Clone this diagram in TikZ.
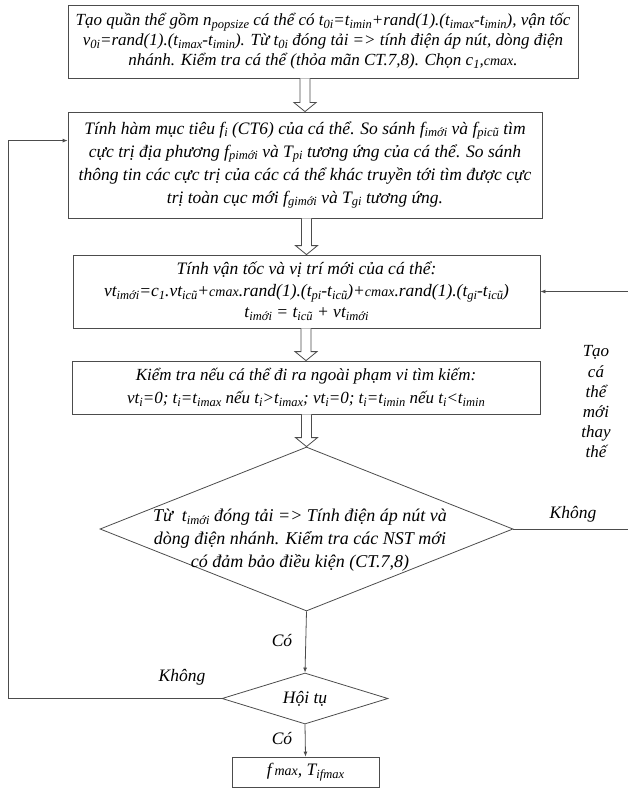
\documentclass[tikz,border=0pt]{standalone}
\usepackage{fontspec}
\setmainfont{Liberation Serif}
\usetikzlibrary{shapes.geometric,arrows.meta,calc}

% lowered small text for indices
\newcommand\sbs[1]{\raisebox{-0.35ex}{\fontsize{12.5}{12.5}\selectfont #1}}
% small text kept on the baseline (the "cmax" coefficient, "max")
\newcommand\smallbase[1]{{\fontsize{14}{14}\selectfont #1}}

\begin{document}
\begin{tikzpicture}[x=1pt,y=-1pt,
  font=\fontsize{17.5}{20}\selectfont\itshape,
  every node/.style={inner sep=0pt},
  procbox/.style={draw=black!70, line width=0.8pt, align=center},
  decision/.style={draw=black!70, line width=0.8pt, shape=diamond},
  flow/.style={draw=black!70, line width=0.8pt, -{Latex[length=5pt,width=4pt]}},
  hollow/.style={draw=black!70, line width=0.8pt, fill=white},
  lbl/.style={align=center}]

\useasboundingbox (0,0) rectangle (627,789);

% process boxes
\node[procbox, minimum width=510pt, minimum height=73pt,
      font=\fontsize{17}{20}\selectfont\itshape] (b1) at (323,41.5)
 {Tạo quần thể gồm n\sbs{popsize} cá thể có t\sbs{0i}=t\sbs{imin}+rand(1).(t\sbs{imax}-t\sbs{imin}), vận tốc\\
  v\sbs{0i}=rand(1).(t\sbs{imax}-t\sbs{imin}). Từ t\sbs{0i} đóng tải => tính điện áp nút, dòng điện\\
  nhánh. Kiểm tra cá thể (thỏa mãn CT.7,8). Chọn c\sbs{1},\smallbase{cmax}.};

\node[procbox, minimum width=474pt, minimum height=106pt,
      font=\fontsize{17.5}{23}\selectfont\itshape] (b2) at (305,165)
 {Tính hàm mục tiêu f\sbs{i} (CT6) của cá thể. So sánh f\sbs{imới} và f\sbs{picũ} tìm\\
  cực trị địa phương f\sbs{pimới} và T\sbs{pi} tương ứng của cá thể. So sánh\\
  thông tin các cực trị của các cá thể khác truyền tới tìm được cực\\
  trị toàn cục mới f\sbs{gimới} và T\sbs{gi} tương ứng.};

\node[procbox, minimum width=467pt, minimum height=73pt,
      font=\fontsize{17.5}{21.5}\selectfont\itshape] (b3) at (306.5,291.5)
 {Tính vận tốc và vị trí mới của cá thể:\\
  vt\sbs{imới}=c\sbs{1}.vt\sbs{icũ}+\smallbase{cmax}.rand(1).(t\sbs{pi}-t\sbs{icũ})+\smallbase{cmax}.rand(1).(t\sbs{gi}-t\sbs{icũ})\\
  t\sbs{imới} = t\sbs{icũ} + vt\sbs{imới}};

\node[procbox, minimum width=468pt, minimum height=53pt,
      font=\fontsize{17}{23}\selectfont\itshape] (b4) at (306,387.5)
 {Kiểm tra nếu cá thể đi ra ngoài phạm vi tìm kiếm:\\
  vt\sbs{i}=0; t\sbs{i}=t\sbs{imax} nếu t\sbs{i}>t\sbs{imax}; vt\sbs{i}=0; t\sbs{i}=t\sbs{imin} nếu t\sbs{i}<t\sbs{imin}};

% decisions
\node[decision, minimum width=413pt, minimum height=164pt] (d1) at (306.5,529) {};
\node[lbl, font=\fontsize{18}{23}\selectfont\itshape] (d1txt) at (300,540)
 {Từ \ t\sbs{imới} đóng tải => Tính điện áp nút và\\
  dòng điện nhánh. Kiểm tra các NST mới\\
  có đảm bảo điều kiện (CT.7,8)};

\node[decision, minimum width=166pt, minimum height=51pt] (d2) at (305,698.5) {};
\node[lbl] (d2txt) at (305,699) {Hội tụ};

% result
\node[procbox, minimum width=147pt, minimum height=30pt] (b5) at (305.5,772)
 {f\,\smallbase{max}, T\sbs{ifmax}};

% hollow block arrows between stages
\newcommand\hollowdown[2]{%
  \path[hollow] let \p1=(#1.south), \p2=(#2.north) in
    (\x2-5pt,\y1) -- (\x2-5pt,\y2+9pt) -- (\x2-11pt,\y2+9pt) -- (\x2,\y2)
    -- (\x2+11pt,\y2+9pt) -- (\x2+5pt,\y2+9pt) -- (\x2+5pt,\y1);}
\hollowdown{b1}{b2}
\hollowdown{b2}{b3}
\hollowdown{b3}{b4}
\hollowdown{b4}{d1}

% straight flow
\draw[flow] (d1.south) -- (d2.north);
\draw[flow] (d2.south) -- (b5.north);

% loop back on the left
\coordinate (lc) at (8,0);
\coordinate (b2in) at ([yshift=-29pt]b2.north west);
\draw[flow] (d2.west) -- (d2.west -| lc) |- (b2in);

% loop back on the right
\coordinate (rc) at (630,0);
\draw[flow] (d1.east) -- (d1.east -| rc) |- (b3.east);

% branch labels
\node (k1) at (573,514) {Không};
\node (c1) at (282,640) {Có};
\node (k2) at (182,677) {Không};
\node (c2) at (282,738) {Có};
\node[lbl, font=\fontsize{17}{20.2}\selectfont\itshape] (tao) at (596,402)
 {Tạo\\ cá\\ thể\\ mới\\ thay\\ thế};

\end{tikzpicture}
\end{document}
